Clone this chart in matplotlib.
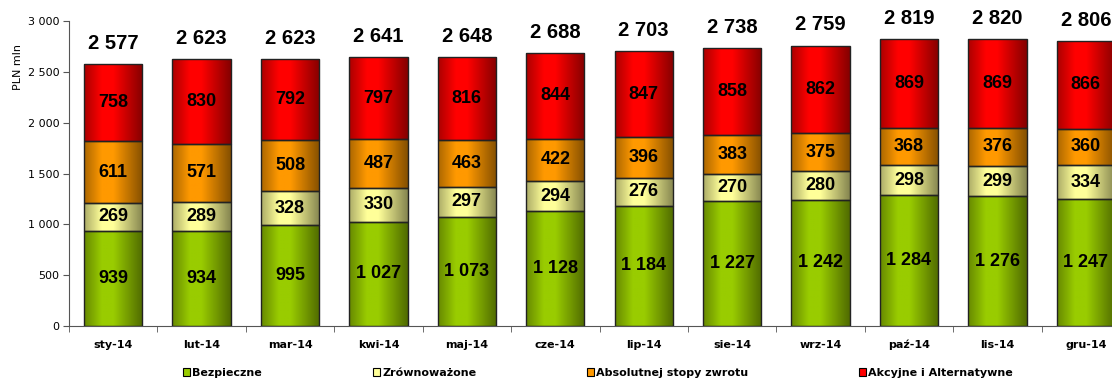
import matplotlib
matplotlib.use("Agg")
import matplotlib.pyplot as plt
import numpy as np
from matplotlib.colors import to_rgb
from matplotlib.patches import Patch

months = ["sty-14", "lut-14", "mar-14", "kwi-14", "maj-14", "cze-14",
          "lip-14", "sie-14", "wrz-14", "paź-14", "lis-14", "gru-14"]
bezpieczne = [939, 934, 995, 1027, 1073, 1128, 1184, 1227, 1242, 1284, 1276, 1247]
zrownowazone = [269, 289, 328, 330, 297, 294, 276, 270, 280, 298, 299, 334]
absolutnej = [611, 571, 508, 487, 463, 422, 396, 383, 375, 368, 376, 360]
akcyjne = [758, 830, 792, 797, 816, 844, 847, 858, 862, 869, 869, 866]
totals = [2577, 2623, 2623, 2641, 2648, 2688, 2703, 2738, 2759, 2819, 2820, 2806]

series = [
    ("Bezpieczne", bezpieczne, "#99cc00"),
    ("Zrównoważone", zrownowazone, "#ffff99"),
    ("Absolutnej stopy zwrotu", absolutnej, "#ff9900"),
    ("Akcyjne i Alternatywne", akcyjne, "#ff0000"),
]


def fmt(v):
    return f"{v:,}".replace(",", " ")


def gradient(color):
    # dark edges, bright band a bit left of centre (like the Excel fill)
    mid = np.array(to_rgb(color))
    edge = mid * 0.5
    t = np.linspace(0, 1, 64)
    f = np.interp(t, [0, 0.3, 0.5, 1], [0.35, 1, 1, 0.05])
    return (edge[None, :] + (mid - edge)[None, :] * f[:, None])[None, :, :]


fig = plt.figure(figsize=(11.12, 3.81), dpi=100)
ax = fig.add_axes([69 / 1112, 55 / 381, 1061 / 1112, 305 / 381])

x = np.arange(len(months))
width = 0.66
bottom = np.zeros(len(months))
for name, vals, color in series:
    vals = np.array(vals)
    bars = ax.bar(x, vals, width, bottom=bottom, facecolor="none",
                  edgecolor="#222222", linewidth=1.0, zorder=3)
    img = gradient(color)
    for b in bars:
        x0, y0 = b.get_x(), b.get_y()
        im = ax.imshow(img, extent=[x0, x0 + b.get_width(), y0, y0 + b.get_height()],
                       aspect="auto", zorder=2, interpolation="bilinear")
        im.set_clip_path(b)
    for xi, v, b0 in zip(x, vals, bottom):
        ax.text(xi, b0 + v / 2, fmt(v), ha="center", va="center",
                fontsize=13, fontweight="bold", family="Liberation Sans", zorder=4)
    bottom += vals

for xi, t, top in zip(x, totals, bottom):
    ax.annotate(fmt(t), (xi, top), xytext=(0, 8), textcoords="offset points",
                ha="center", va="bottom", fontsize=14.5, fontweight="bold",
                family="Liberation Sans")

ax.set_xlim(-0.5, len(months) - 0.5)
ax.set_ylim(0, 3000)
ax.set_yticks(np.arange(0, 3001, 500))
ax.set_yticklabels([fmt(v) for v in range(0, 3001, 500)], fontsize=8)
ax.set_xticks(x)
ax.set_xticklabels(months, fontsize=8, fontweight="bold")
ax.set_xticks(np.arange(-0.5, len(months)), minor=True)
ax.tick_params(axis="x", which="major", length=0, pad=10)
ax.tick_params(axis="x", which="minor", length=4, direction="out", color="#555555")
ax.tick_params(axis="y", length=4, direction="out", color="#555555", pad=3)
ax.spines["top"].set_visible(False)
ax.spines["right"].set_visible(False)
ax.spines["left"].set_color("#555555")
ax.spines["bottom"].set_color("#555555")

fig.text(18 / 1112, 1 - 67 / 381, "PLN mln", rotation=90, ha="center", va="center",
         fontsize=8)

handles = [Patch(facecolor=c, edgecolor="black", linewidth=0.8, label=n)
           for n, _, c in series]
fig.legend(handles=handles, loc="center", bbox_to_anchor=(0.538, 1 - 373 / 381),
           ncol=4, frameon=False, columnspacing=10, handlelength=0.6,
           handleheight=0.8, handletextpad=0.2,
           prop={"size": 8, "weight": "bold"})

fig.savefig("out.png", dpi=100)
